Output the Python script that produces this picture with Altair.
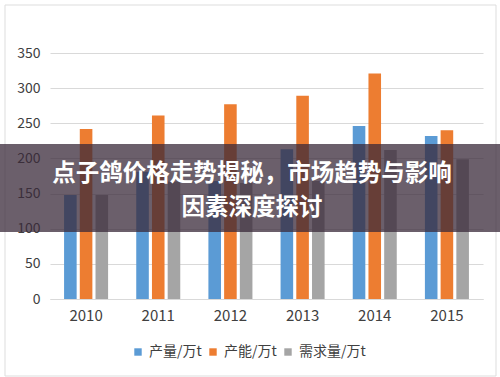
import altair as alt
import pandas as pd

years = ["2010", "2011", "2012", "2013", "2014", "2015"]
series = ["产量/万t", "产能/万t", "需求量/万t"]
production = [148, 181, 168, 213, 246, 232]
capacity = [242, 261, 277, 289, 321, 240]
demand = [148, 167, 165, 168, 212, 199]
colors = ["#5B9BD5", "#ED7D31", "#A5A5A5"]
y_ticks = [0, 50, 100, 150, 200, 250, 300, 350]
title_lines = ["点子鸽价格走势揭秘，市场趋势与影响", "因素深度探讨"]

rows = []
for i, y in enumerate(years):
    for s, vals in zip(series, [production, capacity, demand]):
        rows.append({"year": y, "series": s, "value": vals[i]})
df = pd.DataFrame(rows)

FONT = "Noto Sans CJK SC"

bars = alt.Chart(df).mark_bar().encode(
    x=alt.X("year:N", sort=years,
            scale=alt.Scale(paddingInner=0.39, paddingOuter=0.195),
            axis=alt.Axis(title=None, labelAngle=0, ticks=False, grid=False,
                          domainColor="#D9D9D9", labelFontSize=15,
                          labelColor="#404040", labelPadding=9)),
    xOffset=alt.XOffset("series:N", sort=series,
                        scale=alt.Scale(paddingInner=0.2, paddingOuter=0)),
    y=alt.Y("value:Q", scale=alt.Scale(domain=[0, 350]),
            axis=alt.Axis(title=None, values=y_ticks, domain=False, ticks=False,
                          gridColor="#D9D9D9", labelFontSize=14,
                          labelColor="#404040", labelPadding=10)),
    color=alt.Color("series:N", sort=series,
                    scale=alt.Scale(domain=series, range=colors),
                    legend=alt.Legend(title=None, orient="none", direction="horizontal",
                                      legendX=81, legendY=292,
                                      symbolType="square", symbolSize=55,
                                      symbolStrokeWidth=0,
                                      labelFontSize=14, labelColor="#404040",
                                      labelFont=FONT, columnPadding=4,
                                      labelOffset=4)),
)

dummy = pd.DataFrame({"a": [0]})

border = alt.Chart(dummy).mark_rect(fillOpacity=0, stroke="#DDDDDD", strokeWidth=1).encode(
    x=alt.value(-45), x2=alt.value(446), y=alt.value(-48), y2=alt.value(323)
)

band = alt.Chart(dummy).mark_rect(color="#3a2a3a", opacity=0.75).encode(
    x=alt.value(-50), x2=alt.value(450), y=alt.value(91), y2=alt.value(179)
)

t1 = alt.Chart(dummy).mark_text(text=title_lines[0], font=FONT, fontSize=23.5,
                                fontWeight="bold", color="white",
                                align="center", baseline="middle").encode(
    x=alt.value(202), y=alt.value(121)
)
t2 = alt.Chart(dummy).mark_text(text=title_lines[1], font=FONT, fontSize=23.5,
                                fontWeight="bold", color="white",
                                align="center", baseline="middle").encode(
    x=alt.value(202), y=alt.value(155)
)

chart = alt.layer(border, bars, band, t1, t2).properties(
    width=433, height=246,
    padding={"left": 50, "top": 53, "right": 17, "bottom": 78},
    autosize="none",
    background="white",
).configure_view(stroke=None).configure_axis(labelFont=FONT)

chart.save("out.html", embed_options={"renderer": "svg", "actions": False})
